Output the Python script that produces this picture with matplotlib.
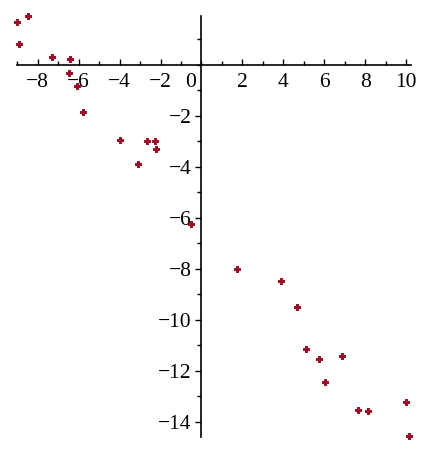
import matplotlib.pyplot as plt
from matplotlib.ticker import MultipleLocator

# --- data ---
x_vals = [-9.02, -8.46, -8.91, -7.28, -6.44, -6.47, -6.10, -5.79,
          -3.98, -2.68, -2.29, -2.24, -3.09, -0.50,
          1.74, 3.89, 4.67, 5.12, 5.74, 6.89, 6.03, 7.64, 8.13, 9.98, 10.13]
y_vals = [1.69, 1.92, 0.84, 0.30, 0.22, -0.33, -0.81, -1.84,
          -2.94, -2.97, -2.98, -3.28, -3.87, -6.24,
          -8.00, -8.46, -9.49, -11.15, -11.53, -11.42, -12.45, -13.54, -13.57, -13.22, -14.56]
x_ticks = [-8, -6, -4, -2, 2, 4, 6, 8, 10]
y_ticks = [-2, -4, -6, -8, -10, -12, -14]

plt.rcParams['font.family'] = ['Liberation Serif', 'DejaVu Serif']

def fmt(t):
    return f"\u2212{-t}" if t < 0 else str(t)

fig = plt.figure(figsize=(4.30, 4.51), dpi=100)
W, H = 430, 451
ax = fig.add_axes([16.7 / W, 1 - 437 / H, (410.7 - 16.7) / W, (437 - 16) / H])
ax.set_xlim(-9.03, 10.23)
ax.set_ylim(-14.6, 1.92)

ax.scatter(x_vals, y_vals, marker='P', s=20, color='#9e0b22', edgecolors='#9e0b22',
           linewidths=0.7, clip_on=False, zorder=3)

# --- axes through the origin ---
for side in ['top', 'right']:
    ax.spines[side].set_visible(False)
ax.spines['left'].set_position(('data', 0))
ax.spines['bottom'].set_position(('data', 0))
for side in ['left', 'bottom']:
    ax.spines[side].set_linewidth(1.2)

ax.set_xticks(x_ticks)
ax.set_xticklabels([fmt(t) for t in x_ticks])
ax.set_yticks(y_ticks)
ax.set_yticklabels([fmt(t) for t in y_ticks])
ax.xaxis.set_minor_locator(MultipleLocator(1))
ax.yaxis.set_minor_locator(MultipleLocator(1))

ax.tick_params(axis='x', which='major', direction='in', length=4, width=1, pad=6, labelsize=15.5)
ax.tick_params(axis='x', which='minor', direction='in', length=3, width=1)
ax.tick_params(axis='y', which='major', direction='out', length=4, width=1, pad=3, labelsize=15.5)
ax.tick_params(axis='y', which='minor', direction='out', length=3, width=1)

ax.annotate("0", xy=(0, 0), xytext=(-8, -6), textcoords='offset points',
            ha='center', va='top', fontsize=15.5)

fig.savefig("out.png", dpi=100)
